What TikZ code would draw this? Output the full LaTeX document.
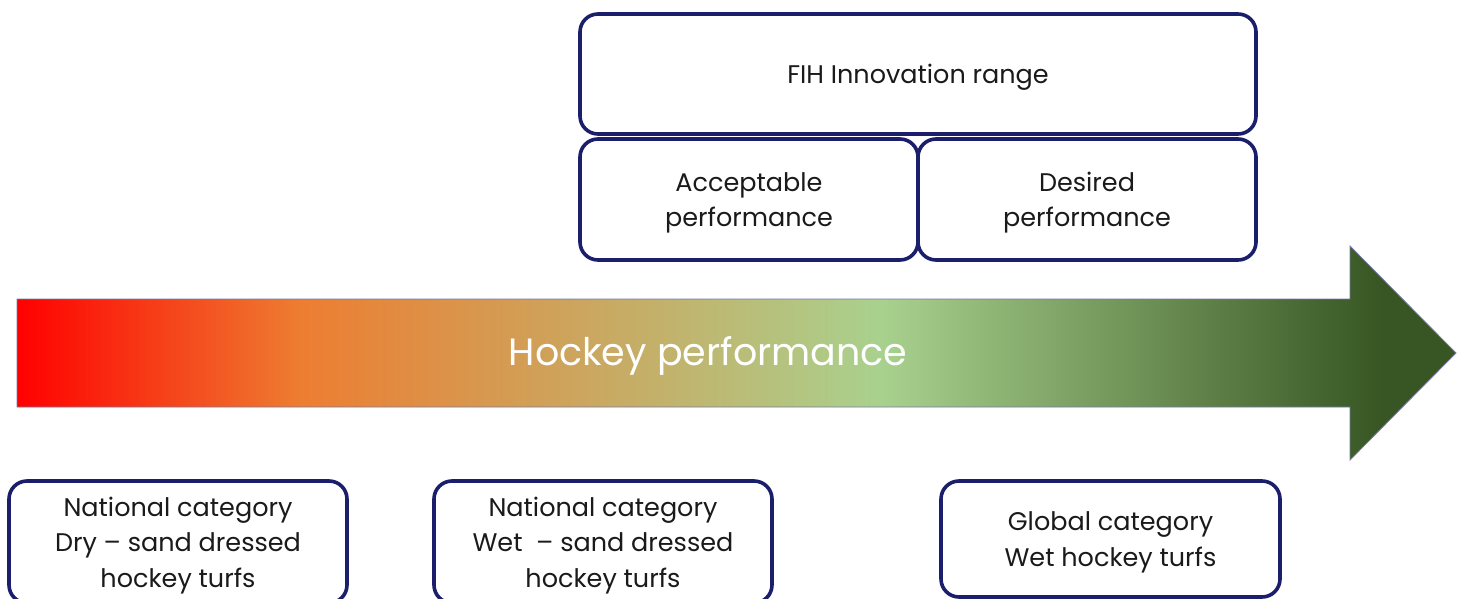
\documentclass[tikz,border=0pt]{standalone}
\usepackage{fontspec}
\setmainfont{Poppins}
\usepackage{tikz}
\usetikzlibrary{positioning}
\definecolor{fhnavy}{HTML}{1B1F6B}
\definecolor{fhink}{HTML}{1A1A1A}
\definecolor{fhred}{HTML}{FF0000}
\definecolor{fhorange}{HTML}{ED7D31}
\definecolor{fhlight}{HTML}{A9D18E}
\definecolor{fhdark}{HTML}{375623}
% colour run of the performance arrow
\pgfdeclarehorizontalshading{perfshade}{100bp}{
  color(0bp)=(fhred); color(25bp)=(fhred); color(34.8bp)=(fhorange);
  color(55bp)=(fhlight); color(72.4bp)=(fhdark); color(100bp)=(fhdark)}

\begin{document}
\begin{tikzpicture}[x=1pt,y=-1pt,
    box/.style={draw=fhnavy,line width=3.6pt,fill=white,rounded corners=18pt,
      align=center,text=fhink,font=\fontsize{25.5}{35.5}\selectfont,inner sep=0pt,
      text depth=0pt}]
  \clip (0,0) rectangle (1464,599);
  % performance arrow
  \draw[draw=fhnavy!60,line width=0.8pt,shading=perfshade]
    (17,299) -- (1350,299) -- (1350,246) -- (1456,353) -- (1350,460)
    -- (1350,407) -- (17,407) -- cycle;
  \node[text=white,font=\fontsize{38}{44}\selectfont] (perf) at (708,356) {Hockey performance};
  % FIH range boxes
  \node[box,minimum width=676pt,minimum height=120pt] (range) at (918,74) {FIH Innovation range};
  \node[box,minimum width=338pt,minimum height=121pt] (accept) at (749,199.5) {Acceptable\\performance};
  \node[box,minimum width=338pt,minimum height=121pt] (desired) at (1087,199.5) {Desired\\performance};
  % turf categories
  \node[box,minimum width=338pt,minimum height=122pt] (natdry) at (178,542) {National category\\Dry -- sand dressed\\hockey turfs};
  \node[box,minimum width=338pt,minimum height=122pt] (natwet) at (603,542) {National category\\Wet~ -- sand dressed\\hockey turfs};
  \node[box,minimum width=339pt,minimum height=116pt] (global) at (1110.5,539) {Global category\\Wet hockey turfs};
\end{tikzpicture}
\end{document}
